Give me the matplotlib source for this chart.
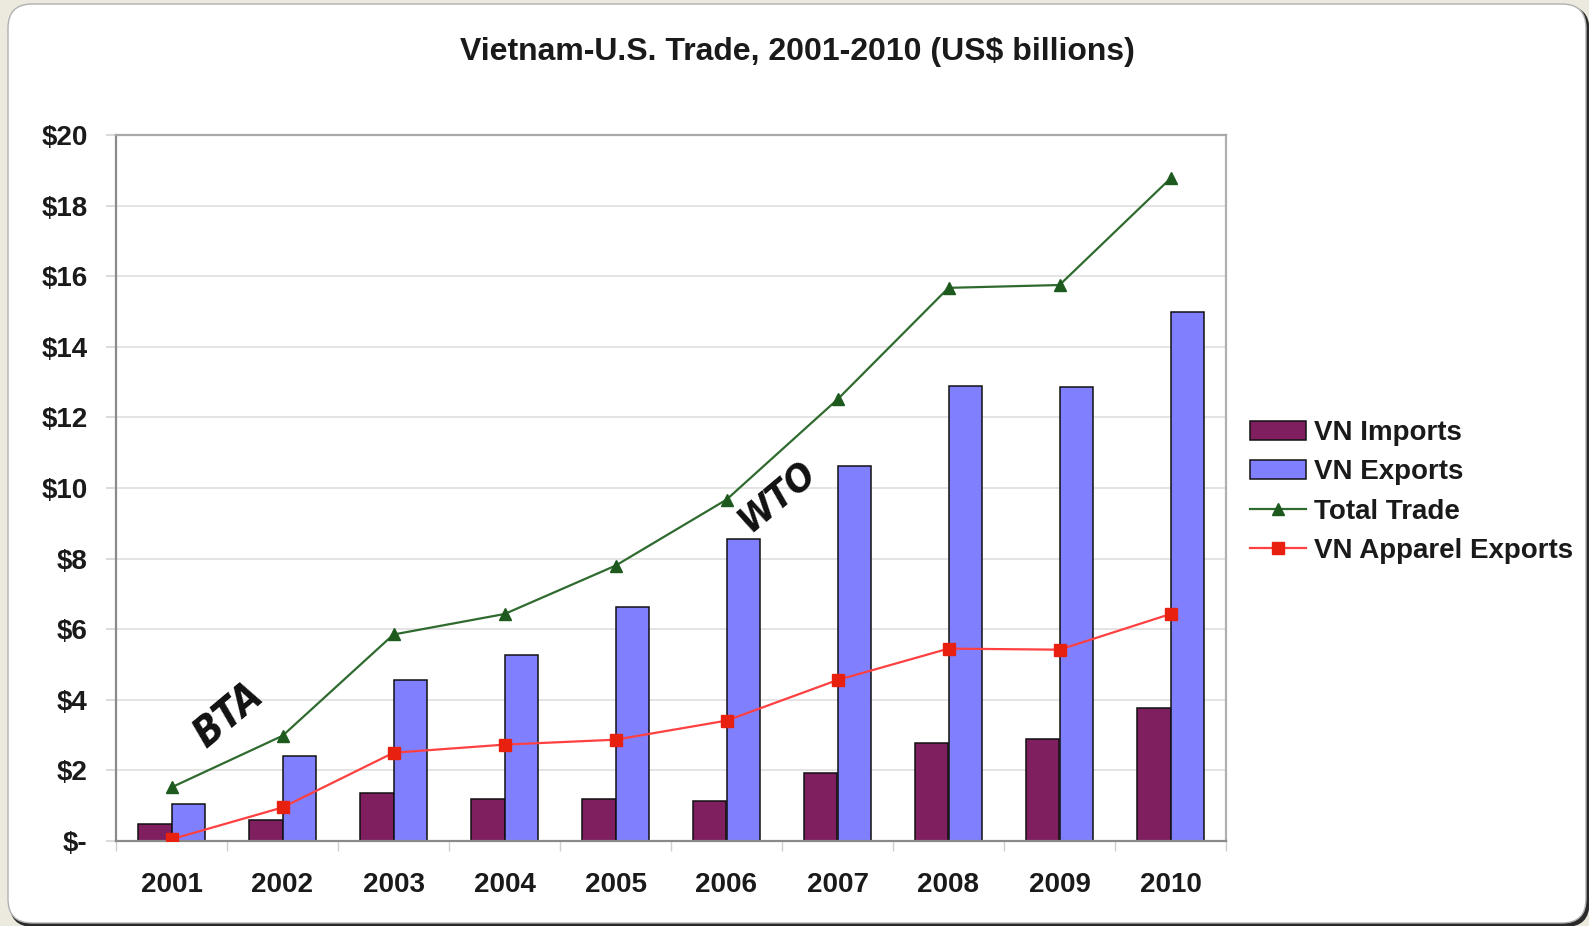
import matplotlib
matplotlib.use("Agg")
import matplotlib.pyplot as plt
import numpy as np
from matplotlib import font_manager
from matplotlib.font_manager import FontProperties
from matplotlib.patches import FancyBboxPatch, Patch
from matplotlib.lines import Line2D

years = ["2001", "2002", "2003", "2004", "2005", "2006", "2007", "2008", "2009", "2010"]
vn_imports = [0.49, 0.60, 1.35, 1.18, 1.20, 1.12, 1.92, 2.78, 2.90, 3.76]
vn_exports = [1.06, 2.41, 4.56, 5.28, 6.63, 8.55, 10.62, 12.88, 12.86, 14.98]
total_trade = [1.52, 2.98, 5.85, 6.43, 7.80, 9.67, 12.51, 15.67, 15.75, 18.77]
apparel_exports = [0.05, 0.95, 2.50, 2.73, 2.87, 3.41, 4.56, 5.45, 5.42, 6.43]
y_ticks = [0, 2, 4, 6, 8, 10, 12, 14, 16, 18, 20]
y_tick_labels = ["$-", "$2", "$4", "$6", "$8", "$10", "$12", "$14", "$16", "$18", "$20"]
title = "Vietnam-U.S. Trade, 2001-2010 (US$ billions)"
series_names = ["VN Imports", "VN Exports", "Total Trade", "VN Apparel Exports"]

plt.rcParams["font.family"] = ["Liberation Sans", "DejaVu Sans"]


def _weight(f):
    w = f.weight
    if isinstance(w, str):
        return {"bold": 700, "heavy": 800, "black": 900, "semibold": 600,
                "demibold": 600, "extra bold": 800}.get(w, 400)
    return int(w)


def pick_narrow_font():
    best, best_score = None, -1
    for f in font_manager.fontManager.ttflist:
        name = f.name
        narrow = ("Narrow" in name or "Condensed" in name or
                  str(f.stretch) in ("condensed", "semi-condensed", "extra-condensed",
                                      "ultra-condensed") or
                  "Condensed" in f.fname or "Narrow" in f.fname)
        if not narrow:
            continue
        score = 1
        if _weight(f) >= 600:
            score += 2
        if f.style in ("italic", "oblique"):
            score += 2
        if "Narrow" in name or "Narrow" in f.fname:
            score += 1
        if score > best_score:
            best, best_score = f, score
    return best


narrow_entry = pick_narrow_font()

W, H = 1589, 926
fig = plt.figure(figsize=(W / 100, H / 100), dpi=100)
fig.patch.set_facecolor("#ECEADF")

# background panel
bg = fig.add_axes([0, 0, 1, 1])
bg.set_xlim(0, W)
bg.set_ylim(H, 0)
bg.axis("off")
bg.set_zorder(-1)
shadow = FancyBboxPatch((9.5, 6), W - 9, H - 5, boxstyle="round,pad=0,rounding_size=24",
                        facecolor="#2a2a2a", edgecolor="none")
bg.add_patch(shadow)
panel = FancyBboxPatch((8, 4), W - 11, H - 7, boxstyle="round,pad=0,rounding_size=24",
                       facecolor="white", edgecolor="#b0b0b0", linewidth=1.0)
bg.add_patch(panel)

ax = fig.add_axes([116 / W, 1 - 841 / H, (1226 - 116) / W, (841 - 135) / H])
ax.set_facecolor("white")

x = np.arange(len(years))
bw = 0.3
ax.bar(x - bw / 2, vn_imports, width=bw, color="#7F1F5F", edgecolor="#111111", linewidth=1.1, zorder=2)
ax.bar(x + bw / 2, vn_exports, width=bw, color="#8080FF", edgecolor="#111111", linewidth=1.1, zorder=2)
ax.plot(x, total_trade, color="#2F6A2F", linewidth=1.6, marker="^", markersize=9,
        markerfacecolor="#1E5A1E", markeredgecolor="#1E5A1E", zorder=3)
ax.plot(x, apparel_exports, color="#FF4040", linewidth=1.6, marker="s", markersize=9,
        markerfacecolor="#E82010", markeredgecolor="#E82010", zorder=4)

ax.set_xlim(-0.5, len(years) - 0.5)
ax.set_ylim(0, 20)
ax.set_yticks(y_ticks)
ax.set_yticklabels(y_tick_labels)
ax.set_xticks(x)
ax.set_xticklabels(years)
ax.set_xticks(np.arange(-0.5, len(years), 1.0), minor=True)

ax.grid(axis="y", color="#E2E2E2", linewidth=1.3, zorder=0)
ax.set_axisbelow(True)
for s in ax.spines.values():
    s.set_color("#8a8a8a")
    s.set_linewidth(1.6)
ax.spines["top"].set_color("#a8a8a8")
ax.spines["right"].set_color("#b0b0b0")

ax.tick_params(axis="y", length=7, width=1.3, color="#D8D8D8", pad=13.5,
               labelsize=20)
ax.tick_params(axis="x", which="major", length=0, pad=22, labelsize=20)
ax.tick_params(axis="x", which="minor", length=7, width=1.0, color="#D0D0D0")
for lab in ax.get_xticklabels() + ax.get_yticklabels():
    lab.set_fontweight("bold")
    lab.set_color("#1a1a1a")

fig.text(0.502, 1 - 52 / H, title, ha="center", va="center", fontsize=23,
         fontweight="bold", color="#1a1a1a")

# annotations
if narrow_entry is not None:
    ann_bta = FontProperties(fname=narrow_entry.fname, size=29)
    ann_wto = FontProperties(fname=narrow_entry.fname, size=27)
else:
    ann_bta = FontProperties(family=["Liberation Sans", "DejaVu Sans"], weight="bold",
                             style="italic", size=29)
    ann_wto = FontProperties(family=["Liberation Sans", "DejaVu Sans"], weight="bold",
                             style="italic", size=27)
fig.text(229 / W, 1 - 716 / H, "BTA", rotation=40, ha="center", va="center",
         fontproperties=ann_bta, color="#111111", zorder=10)
fig.text(778 / W, 1 - 497 / H, "WTO", rotation=40, ha="center", va="center",
         fontproperties=ann_wto, color="#111111", zorder=10)

handles = [
    Patch(facecolor="#7F1F5F", edgecolor="#111111", linewidth=1.1),
    Patch(facecolor="#8080FF", edgecolor="#111111", linewidth=1.1),
    Line2D([0], [0], color="#2F6A2F", linewidth=1.6, marker="^", markersize=9,
           markerfacecolor="#1E5A1E", markeredgecolor="#1E5A1E"),
    Line2D([0], [0], color="#FF4040", linewidth=1.6, marker="s", markersize=9,
           markerfacecolor="#E82010", markeredgecolor="#E82010"),
]
leg = fig.legend(handles, series_names, loc="center left",
                 bbox_to_anchor=(1250 / W, 1 - 492 / H), frameon=False,
                 prop={"size": 20, "weight": "bold"}, handlelength=2.0,
                 handleheight=0.7, handletextpad=0.3, labelspacing=0.47,
                 borderpad=0, borderaxespad=0)
for t in leg.get_texts():
    t.set_color("#1a1a1a")

fig.savefig("out.png", dpi=100, facecolor=fig.get_facecolor())
